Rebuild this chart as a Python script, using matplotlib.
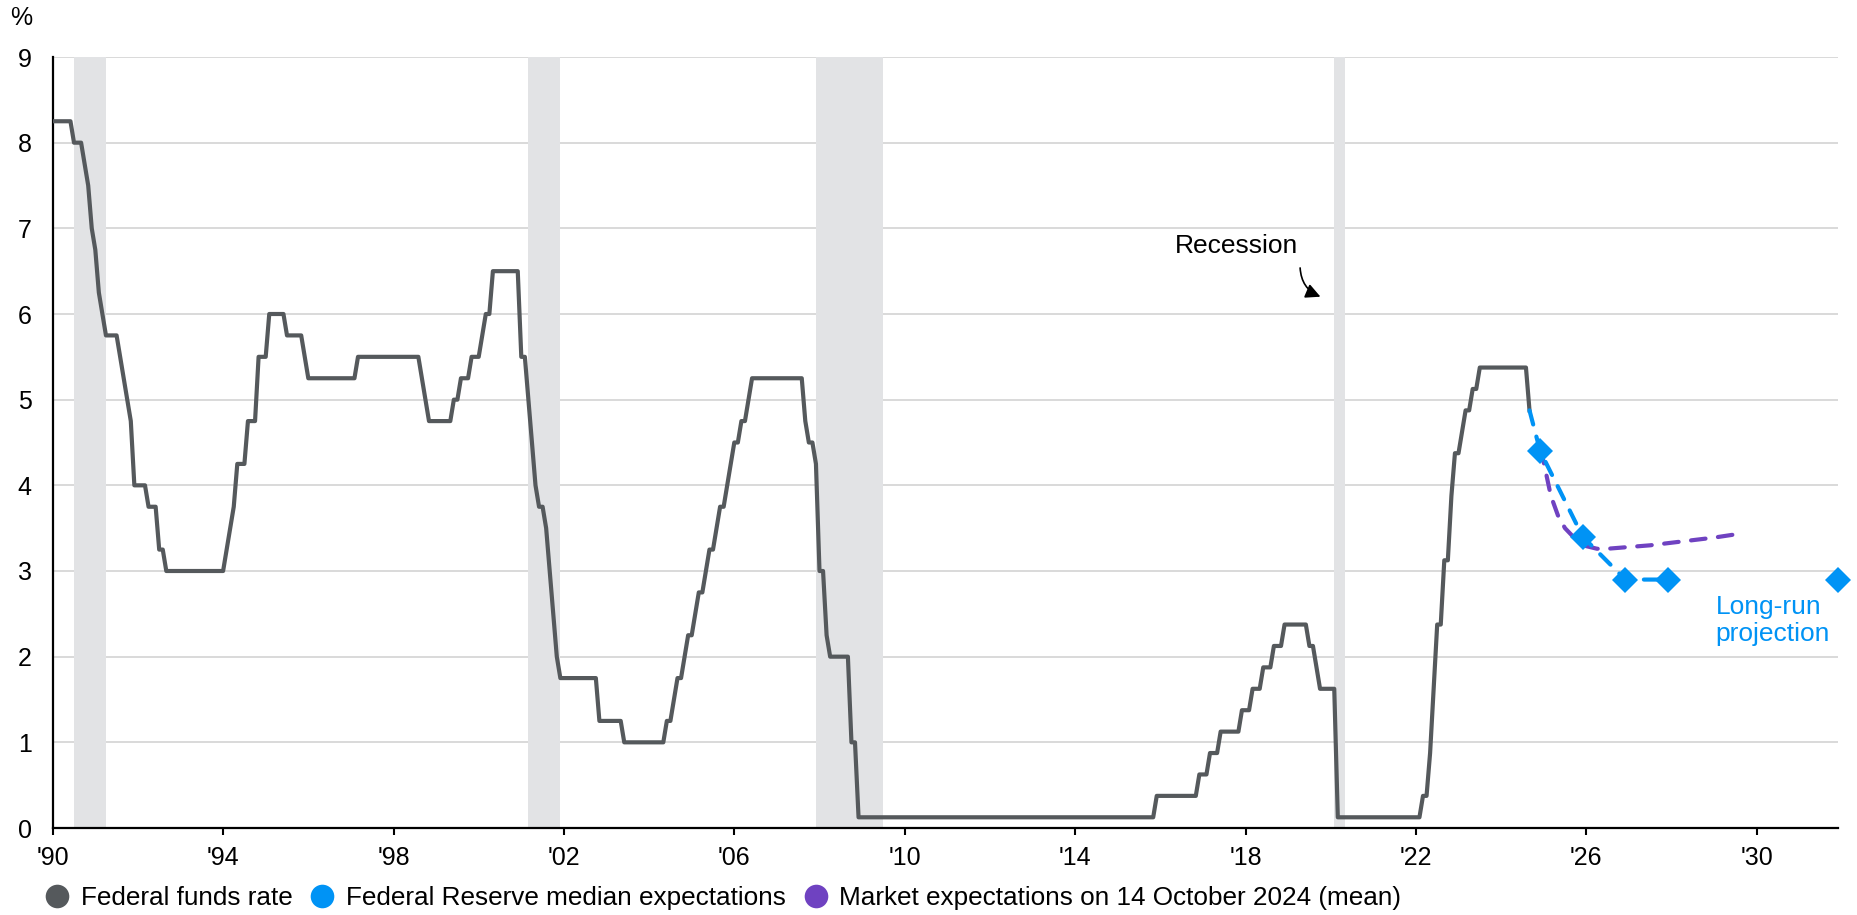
import numpy as np
import pandas as pd
import matplotlib.pyplot as plt
from matplotlib.lines import Line2D

plt.rcParams['font.family'] = ['Liberation Sans', 'DejaVu Sans']

# federal funds target (midpoint of range), month of change and new level
rate_change_months = [
    '1990-01', '1990-07', '1990-10', '1990-11', '1990-12', '1991-01', '1991-02', '1991-03',
    '1991-04', '1991-08', '1991-09', '1991-10', '1991-11', '1991-12', '1992-04', '1992-07',
    '1992-09', '1994-02', '1994-03', '1994-04', '1994-05', '1994-08', '1994-11', '1995-02',
    '1995-07', '1995-12', '1996-01', '1997-03', '1998-09', '1998-10', '1998-11', '1999-06',
    '1999-08', '1999-11', '2000-02', '2000-03', '2000-05', '2001-01', '2001-03', '2001-04',
    '2001-05', '2001-06', '2001-08', '2001-09', '2001-10', '2001-11', '2001-12', '2002-11',
    '2003-06', '2004-06', '2004-08', '2004-09', '2004-11', '2004-12', '2005-02', '2005-03',
    '2005-05', '2005-06', '2005-08', '2005-09', '2005-11', '2005-12', '2006-01', '2006-03',
    '2006-05', '2006-06', '2007-09', '2007-10', '2007-12', '2008-01', '2008-03', '2008-04',
    '2008-10', '2008-12', '2015-12', '2016-12', '2017-03', '2017-06', '2017-12', '2018-03',
    '2018-06', '2018-09', '2018-12', '2019-07', '2019-09', '2019-10', '2020-03', '2022-03',
    '2022-05', '2022-06', '2022-07', '2022-09', '2022-11', '2022-12', '2023-02', '2023-03',
    '2023-05', '2023-07', '2024-09',
]
rate_change_levels = [
    8.25, 8.00, 7.75, 7.50, 7.00, 6.75, 6.25, 6.00,
    5.75, 5.50, 5.25, 5.00, 4.75, 4.00, 3.75, 3.25,
    3.00, 3.25, 3.50, 3.75, 4.25, 4.75, 5.50, 6.00,
    5.75, 5.50, 5.25, 5.50, 5.25, 5.00, 4.75, 5.00,
    5.25, 5.50, 5.75, 6.00, 6.50, 5.50, 5.00, 4.50,
    4.00, 3.75, 3.50, 3.00, 2.50, 2.00, 1.75, 1.25,
    1.00, 1.25, 1.50, 1.75, 2.00, 2.25, 2.50, 2.75,
    3.00, 3.25, 3.50, 3.75, 4.00, 4.25, 4.50, 4.75,
    5.00, 5.25, 4.75, 4.50, 4.25, 3.00, 2.25, 2.00,
    1.00, 0.125, 0.375, 0.625, 0.875, 1.125, 1.375, 1.625,
    1.875, 2.125, 2.375, 2.125, 1.875, 1.625, 0.125, 0.375,
    0.875, 1.625, 2.375, 3.125, 3.875, 4.375, 4.625, 4.875,
    5.125, 5.375, 4.875,
]
last_month = '2024-09'

recession_starts = ['1990-07', '2001-03', '2007-12', '2020-02']
recession_ends = ['1991-03', '2001-11', '2009-06', '2020-04']

# Fed median projections (end of year) and long-run
fed_months = ['2024-12', '2025-12', '2026-12', '2027-12']
fed_values = [4.4, 3.4, 2.9, 2.9]
fed_long_run = 2.9

# market-implied path, 14 October 2024
market_months = ['2024-12', '2025-01', '2025-03', '2025-05', '2025-07', '2025-10', '2026-01',
                 '2026-04', '2026-07', '2027-01', '2027-07', '2028-01', '2028-07', '2029-01',
                 '2029-09']
market_values = [4.42, 4.27, 3.88, 3.65, 3.50, 3.37, 3.29,
                 3.26, 3.26, 3.28, 3.30, 3.33, 3.36, 3.39,
                 3.44]

year_ticks = list(range(1990, 2031, 4))
year_labels = ["'" + str(y)[2:] for y in year_ticks]

GREY = '#55595c'
BLUE = '#0093f5'
PURPLE = '#6f42c1'
SHADE = '#e2e3e5'


def dec_year(m, end=False):
    p = pd.Period(m, freq='M')
    return p.year + (p.month - (0 if end else 1)) / 12


# monthly target path from the change list
months = pd.period_range('1990-01', last_month, freq='M')
funds = pd.Series(rate_change_levels, index=pd.PeriodIndex(rate_change_months, freq='M'))
funds = funds.reindex(months).ffill()
funds_x = months.year + (months.month - 1) / 12

fig = plt.figure(figsize=(18.58, 9.15), dpi=100)
ax = fig.add_axes([52.7 / 1858, 1 - 828 / 915, (1838 - 52.7) / 1858, (828 - 57) / 915])

for s, e in zip(recession_starts, recession_ends):
    ax.axvspan(dec_year(s), dec_year(e, end=True), color=SHADE, lw=0, zorder=1)

ax.plot(funds_x, funds.values, color=GREY, lw=3, zorder=3)

fed_x = [funds_x[-1]] + [dec_year(m) for m in fed_months]
fed_y = [funds.values[-1]] + fed_values
ax.plot([dec_year(m) for m in market_months], market_values, color=PURPLE, lw=3,
        dashes=(3.5, 3.0), dash_capstyle='round', zorder=4)
ax.plot(fed_x, fed_y, color=BLUE, lw=3, dashes=(3.5, 3.0), dash_capstyle='round', zorder=5)
ax.plot(fed_x[1:], fed_y[1:], ls='none', marker='D', ms=13, mew=0, color=BLUE, zorder=6)

x_right = 1990 + (1838 - 52.7) / 42.6
ax.plot([x_right], [fed_long_run], ls='none', marker='D', ms=13, mew=0, color=BLUE,
        clip_on=False, zorder=6)

ax.set_xlim(1990, x_right)
ax.set_ylim(0, 9)
ax.set_yticks(range(0, 10))
ax.set_xticks(year_ticks)
ax.set_xticklabels(year_labels)
ax.yaxis.grid(True, color='#d0d0d0', lw=1.1, zorder=0)
ax.set_axisbelow(True)
ax.tick_params(axis='y', length=0, pad=15, labelsize=18)
ax.tick_params(axis='x', length=5, width=1.5, pad=8, labelsize=18)
for side in ('top', 'right'):
    ax.spines[side].set_visible(False)
for side in ('left', 'bottom'):
    ax.spines[side].set_linewidth(1.6)
    ax.spines[side].set_color('black')

ax.text(2017.8, 6.79, 'Recession', ha='center', va='center', fontsize=19)
ax.annotate('', xy=(2019.82, 6.19), xytext=(2019.28, 6.57),
            arrowprops=dict(arrowstyle='-|>', connectionstyle='arc3,rad=0.35',
                            color='black', lw=1.2, mutation_scale=22))
ax.text(2029.03, 2.18, 'Long-run\nprojection', ha='left', va='baseline', fontsize=19,
        color=BLUE, linespacing=1.15)

fig.text(10 / 1858, 1 - 18 / 915, '%', ha='left', va='center', fontsize=18)

handles = [Line2D([], [], ls='none', marker='o', ms=17, mew=0, color=c)
           for c in (GREY, BLUE, PURPLE)]
labels = ['Federal funds rate', 'Federal Reserve median expectations',
          'Market expectations on 14 October 2024 (mean)']
fig.legend(handles, labels, loc='center left', bbox_to_anchor=(44 / 1858, 1 - 898 / 915),
           ncol=3, frameon=False, fontsize=18.8, handlelength=1.0, handletextpad=0.4,
           columnspacing=0.65, borderpad=0, borderaxespad=0)

fig.savefig('out.png', dpi=100)
